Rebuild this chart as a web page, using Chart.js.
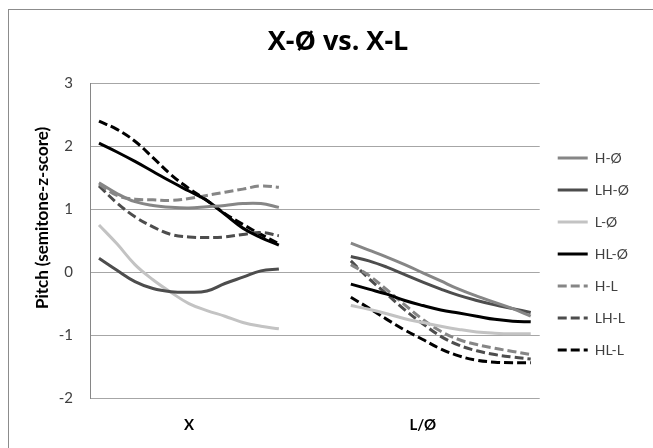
<!DOCTYPE html>
<html>
<head>
<meta charset="utf-8">
<script src="https://cdn.jsdelivr.net/npm/chart.js@4.4.1/dist/chart.umd.min.js"></script>
<style>
    html, body { margin: 0; padding: 0; background: #fff; }
    #wrap { width: 653px; height: 448px; }
</style>
</head>
<body>
<div id="wrap"><canvas id="pitchGraph" width="653" height="448"></canvas></div>
<script>

// categories: 11 points for X, 3 empty slots, 11 points for L/Ø
const categories = ['', '', '', '', '', 'X', '', '', '', '', '', '', '', '', '', '', '', '', 'L/Ø', '', '', '', '', '', ''];
const gap = [null, null, null];

const hoX  = [1.42, 1.25, 1.12, 1.06, 1.03, 1.02, 1.04, 1.06, 1.09, 1.09, 1.03];
const hoL  = [0.46, 0.35, 0.24, 0.12, -0.01, -0.14, -0.27, -0.38, -0.48, -0.58, -0.70];
const lhoX = [0.22, 0.03, -0.15, -0.26, -0.31, -0.32, -0.30, -0.18, -0.08, 0.02, 0.05];
const lhoL = [0.25, 0.18, 0.08, -0.04, -0.16, -0.27, -0.37, -0.45, -0.52, -0.58, -0.64];
const loX  = [0.75, 0.45, 0.12, -0.12, -0.32, -0.50, -0.61, -0.70, -0.80, -0.86, -0.90];
const loL  = [-0.53, -0.59, -0.66, -0.74, -0.80, -0.86, -0.91, -0.95, -0.97, -0.98, -0.98];
const hloX = [2.05, 1.91, 1.76, 1.60, 1.44, 1.29, 1.14, 0.92, 0.70, 0.55, 0.43];
const hloL = [-0.19, -0.27, -0.35, -0.45, -0.53, -0.60, -0.65, -0.70, -0.75, -0.78, -0.79];
const hlX  = [1.40, 1.22, 1.16, 1.15, 1.14, 1.17, 1.22, 1.27, 1.32, 1.37, 1.35];
const hlL  = [0.12, -0.05, -0.28, -0.52, -0.75, -0.94, -1.07, -1.15, -1.21, -1.26, -1.31];
const lhlX = [1.37, 1.10, 0.88, 0.72, 0.60, 0.56, 0.55, 0.56, 0.60, 0.63, 0.58];
const lhlL = [0.18, -0.10, -0.35, -0.60, -0.82, -1.02, -1.16, -1.25, -1.31, -1.35, -1.38];
const hllX = [2.40, 2.27, 2.08, 1.82, 1.55, 1.33, 1.14, 0.93, 0.76, 0.60, 0.45];
const hllL = [-0.40, -0.57, -0.75, -0.92, -1.07, -1.22, -1.33, -1.40, -1.43, -1.44, -1.44];

const yTicks = [-2, -1, 0, 1, 2, 3];


function joinGroups(xPart, lPart) {

    return [...xPart, ...gap, ...lPart];
}


function makeLine(label, xPart, lPart, color, dashed) {

    return {
        label: label,
        data: joinGroups(xPart, lPart),
        borderColor: color,
        backgroundColor: color,
        borderWidth: 3,
        borderDash: dashed ? [9, 4] : [],
        pointRadius: 0,
        tension: 0.4,
        spanGaps: false,
        fill: false
    };
}


// legend samples keep the dash of their dataset
function legendLabels(chart) {

    return chart.data.datasets.map((ds, i) => ({
        text: ds.label,
        strokeStyle: ds.borderColor,
        fillStyle: ds.borderColor,
        fontColor: '#404040',
        lineWidth: 3,
        lineDash: ds.borderDash,
        lineCap: 'butt',
        pointStyle: 'line',
        hidden: false,
        datasetIndex: i
    }));
}


// border round the chart and the rotated y title
const framePlugin = {

    id: 'framePlugin',
    beforeDraw(chart) {

        const ctx = chart.ctx;
        ctx.save();
        ctx.fillStyle = '#fff';
        ctx.fillRect(0, 0, chart.width, chart.height);
        ctx.strokeStyle = '#8c8c8c';
        ctx.lineWidth = 1;
        ctx.strokeRect(8.5, 9.5, chart.width, chart.height);
        ctx.restore();
    },
    afterDraw(chart) {

        const ctx = chart.ctx;
        ctx.save();
        ctx.translate(43, 218);
        ctx.rotate(-Math.PI / 2);
        ctx.font = 'bold 17px Lato';
        ctx.fillStyle = '#000';
        ctx.textAlign = 'center';
        ctx.textBaseline = 'middle';
        ctx.fillText('Pitch (semitone-z-score)', 0, 0);
        ctx.restore();
    }
};


function initializeChart() {

    const ctx = document.getElementById('pitchGraph').getContext('2d');

    new Chart(ctx, {

        type: 'line',
        data: {

            labels: categories,
            datasets: [
                makeLine('H-Ø', hoX, hoL, '#868686', false),
                makeLine('LH-Ø', lhoX, lhoL, '#4d4d4d', false),
                makeLine('L-Ø', loX, loL, '#c3c3c3', false),
                makeLine('HL-Ø', hloX, hloL, '#000000', false),
                makeLine('H-L', hlX, hlL, '#868686', true),
                makeLine('LH-L', lhlX, lhlL, '#4d4d4d', true),
                makeLine('HL-L', hllX, hllL, '#000000', true)
            ]
        },
        options: {

            responsive: false,
            animation: false,
            layout: { padding: { left: 37, right: 14, top: 0, bottom: 0 } },
            plugins: {

                title: {
                    display: true,
                    text: 'X-Ø vs. X-L',
                    color: '#000',
                    font: { family: 'Open Sans', size: 27, weight: 'bold' },
                    padding: { top: 26, bottom: 25 }
                },
                legend: {
                    position: 'right',
                    title: { display: true, text: ' ', font: { size: 10 }, padding: { top: 0, bottom: 48 } },
                    labels: {
                        usePointStyle: true,
                        pointStyle: 'line',
                        pointStyleWidth: 30,
                        padding: 18,
                        color: '#404040',
                        font: { family: 'Lato', size: 14 },
                        generateLabels: legendLabels
                    }
                },
                tooltip: { enabled: false }
            },
            scales: {

                x: {
                    type: 'category',
                    offset: true,
                    grid: { display: false },
                    border: { display: false },
                    ticks: {
                        autoSkip: false,
                        maxRotation: 0,
                        padding: 10,
                        color: '#000',
                        font: { family: 'Lato', size: 15, weight: 'bold' }
                    },
                    afterFit(scale) { scale.height = 50; }
                },
                y: {
                    min: -2,
                    max: 3,
                    afterBuildTicks(scale) { scale.ticks = yTicks.map(v => ({ value: v })); },
                    grid: { color: '#a6a6a6', drawTicks: false },
                    border: { color: '#868686' },
                    ticks: {
                        padding: 17,
                        color: '#404040',
                        font: { family: 'Lato', size: 15 }
                    },
                    afterFit(scale) { scale.width = 53; }
                }
            }
        },
        plugins: [framePlugin]
    });
}


window.onload = function () {

    initializeChart();
};

</script>
</body>
</html>
